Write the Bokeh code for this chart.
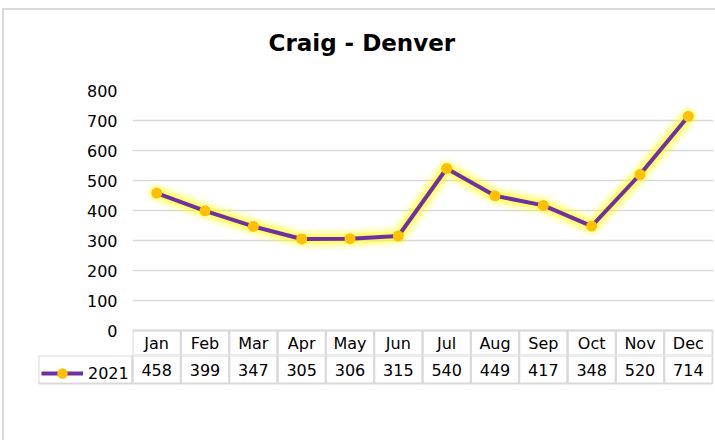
from bokeh.plotting import figure
from bokeh.layouts import column
from bokeh.models import FixedTicker, Range1d, Legend, LegendItem, Title
from bokeh.core.properties import value
from bokeh.embed import file_html
from bokeh.resources import INLINE

# ---------------- data ----------------
title_text = "Craig - Denver"
series_name = "2021"
months = ["Jan", "Feb", "Mar", "Apr", "May", "Jun",
          "Jul", "Aug", "Sep", "Oct", "Nov", "Dec"]
passengers = [458, 399, 347, 305, 306, 315, 540, 449, 417, 348, 520, 714]
y_ticks = [0, 100, 200, 300, 400, 500, 600, 700, 800]

# ---------------- style ----------------
FONT = "DejaVu Sans"
GRID = "#d9d9d9"
PURPLE = "#7030A0"
GOLD = "#FFC000"
GLOW = "#FFFF00"
TXT = "#000000"
FS = "16px"

# ---------------- layout (pixels) ----------------
ORIGIN_X = 4                 # page x where the figures start
FRAME_LEFT_PX = 132          # page x of the chart frame's left edge
TABLE_LEFT_PX = 38           # page x of the table's legend cell
RIGHT = 2
n = len(months)
idx = list(range(n))
col_w = 580 / n
frame_w = 581
W = (FRAME_LEFT_PX - ORIGIN_X) + frame_w + RIGHT
x_end = -0.5 + frame_w / col_w
plot_h = 240.0               # pixels for 0..800
y_max = y_ticks[-1]
px_per_unit = plot_h / y_max
header_px = 25
header_bottom = -header_px / px_per_unit


def px2x(px):
    return -0.5 + (px - FRAME_LEFT_PX) / col_w


p1 = figure(width=W, height=80 + 240 + header_px,
            x_range=Range1d(-0.5, x_end), y_range=Range1d(header_bottom, y_max),
            x_axis_location=None, output_backend="svg", toolbar_location=None,
            min_border_left=FRAME_LEFT_PX - ORIGIN_X, min_border_right=RIGHT,
            min_border_top=80, min_border_bottom=0,
            outline_line_color=None, title=None, frame_align=False)

# spacer (closest to frame) + title above it
p1.add_layout(Title(text=" ", text_font_size="10px", standoff=16), "above")
p1.add_layout(Title(text=title_text, align="left", offset=136, standoff=12,
                    text_font=FONT, text_font_size="23px", text_font_style="bold",
                    text_color=TXT), "above")

ticker = FixedTicker(ticks=y_ticks)
p1.yaxis.ticker = ticker
p1.ygrid.ticker = ticker
p1.ygrid.grid_line_color = GRID
p1.ygrid.grid_line_width = 1.5
p1.xgrid.visible = False
ax = p1.yaxis[0]
ax.axis_line_color = None
ax.major_tick_line_color = None
ax.minor_tick_line_color = None
ax.major_tick_out = 0
ax.major_tick_in = 0
ax.major_label_standoff = 15
ax.major_label_text_font = FONT
ax.major_label_text_font_size = FS
ax.major_label_text_color = TXT

# glow
for w, a in [(22, 0.1), (16, 0.2), (10, 0.35)]:
    p1.line(idx, passengers, line_color=GLOW, line_width=w, line_alpha=a,
            line_join="round", line_cap="round")
p1.line(idx, passengers, line_color=PURPLE, line_width=4, line_join="round")
p1.scatter(idx, passengers, marker="circle", size=11, fill_color=GOLD, line_color=None)

# header row (months)
p1.rect(x=idx, y=header_bottom / 2, width=1, height=-header_bottom,
        fill_color=None, line_color=GRID, line_width=2)
p1.text(x=idx, y=header_bottom / 2, text=months, text_align="center",
        text_baseline="middle", text_font=value(FONT), text_font_size=FS,
        text_color=TXT)

# ---------------- value row ----------------
row_h = 28
pad = 2 / row_h
P2H = 85
x2_start = px2x(TABLE_LEFT_PX)
p2 = figure(width=W, height=P2H,
            x_range=Range1d(x2_start, x_end), y_range=Range1d(-pad, 1),
            x_axis_location=None, y_axis_location=None,
            output_backend="svg", toolbar_location=None,
            min_border_left=TABLE_LEFT_PX - ORIGIN_X, min_border_right=RIGHT,
            min_border_top=0, min_border_bottom=P2H - row_h - 2,
            outline_line_color=None, frame_align=False)
p2.xgrid.visible = False
p2.ygrid.visible = False

p2.rect(x=idx, y=0.5, width=1, height=1, fill_color=None, line_color=GRID, line_width=2)
p2.rect(x=(x2_start - 0.5) / 2, y=0.5, width=-0.5 - x2_start, height=1,
        fill_color=None, line_color=GRID, line_width=2)
p2.text(x=idx, y=0.5, text=[str(v) for v in passengers], text_align="center",
        text_baseline="middle", text_font=value(FONT), text_font_size=FS,
        text_color=TXT)

# series renderers in the table plot (outside its y range) -> legend key
key_line = p2.line(idx, passengers, line_color=PURPLE, line_width=4)
key_dot = p2.scatter(idx, passengers, marker="circle", size=11,
                     fill_color=GOLD, line_color=None)
legend = Legend(items=[LegendItem(label=series_name, renderers=[key_line, key_dot])],
                location=(3, -1), orientation="vertical",
                margin=0, padding=4, spacing=0,
                glyph_width=42, glyph_height=26, label_height=26,
                label_standoff=5,
                label_text_font=FONT, label_text_font_size=FS,
                label_text_color=TXT, label_text_baseline="middle",
                border_line_color=None, background_fill_alpha=0,
                inactive_fill_alpha=0)
p2.add_layout(legend)

layout = column(p1, p2, styles={"margin-left": "2px", "margin-top": "8px",
                                "border-top": "2px solid #d9d9d9",
                                "border-left": "2px solid #d9d9d9"})

open("out.html", "w").write(file_html(layout, INLINE))
